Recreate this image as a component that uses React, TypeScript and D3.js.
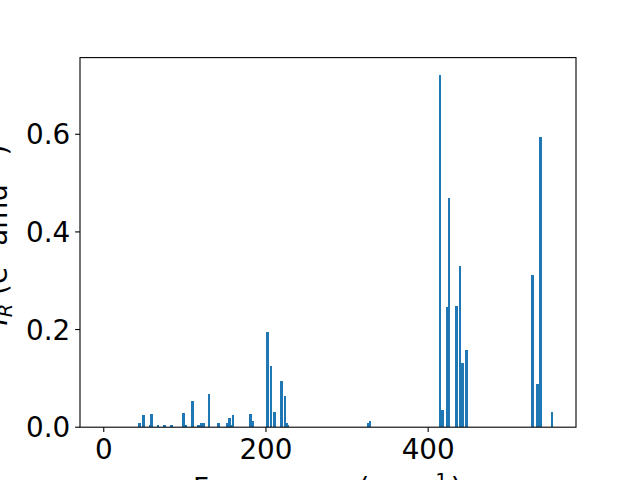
import React from "react";
import * as d3 from "d3";

// vibrational modes: frequency (cm^-1) and IR intensity
const frequencies = [
  0, 38.7, 43.9, 48.8, 57.3, 58.7, 63.6, 66.7, 74.9, 78, 83.6, 87.3, 98.2, 101.2, 109.5, 116.9,
  120.4, 123.9, 129.7, 141.5, 144.5, 152.1, 154.8, 157.3, 159.3, 166.7, 181.1, 183.3, 202.1,
  206.4, 210.5, 219.4, 223.7, 225.6, 227.4, 326, 328.5, 414.4, 417.8, 423.2, 425.5, 435, 439.6,
  442.5, 447.4, 528.9, 535, 538.3, 553,
];
const intensities = [
  0, 0.0014, 0.0076, 0.024, 0.0035, 0.028, 0.0014, 0.0055, 0.0035, 0.0014, 0.0035, 0.0014, 0.03,
  0.0035, 0.053, 0.0035, 0.0076, 0.0076, 0.067, 0.0096, 0.0014, 0.0076, 0.018, 0.0055, 0.024,
  0.0014, 0.028, 0.0137, 0.196, 0.1245, 0.032, 0.094, 0.063, 0.0076, 0.0035, 0.008, 0.013, 0.721,
  0.036, 0.246, 0.469, 0.248, 0.33, 0.131, 0.159, 0.311, 0.088, 0.594, 0.032,
];
const xTicks = [0, 200, 400];
const yTicks = [0, 0.2, 0.4, 0.6];

const W = 640;
const H = 480;
const left = 80;
const right = 576;
const top = 57.6;
const bottom = 427.2;
const barWidth = 3;
const font = "'DejaVu Sans', sans-serif";
const fs = 27.8;

const App = () => {
  const lo = d3.min(frequencies)! - barWidth / 2;
  const hi = d3.max(frequencies)! + barWidth / 2;
  const pad = (hi - lo) * 0.05;
  const x = d3.scaleLinear().domain([lo - pad, hi + pad]).range([left, right]);
  const y = d3
    .scaleLinear()
    .domain([0, d3.max(intensities)! * 1.05])
    .range([bottom, top]);

  const bars = frequencies.map((f, i) => ({ f, v: intensities[i] }));

  return (
    <svg
      width={W}
      height={H}
      style={{ position: "absolute", left: 0, top: 0, background: "#fff" }}
      fontFamily={font}
    >
      <g shapeRendering="crispEdges">
        {bars.map((d, i) => (
          <rect
            key={i}
            x={x(d.f - barWidth / 2)}
            y={y(d.v)}
            width={x(d.f + barWidth / 2) - x(d.f - barWidth / 2)}
            height={y(0) - y(d.v)}
            fill="#1f77b4"
          />
        ))}
      </g>

      <rect
        x={left}
        y={top}
        width={right - left}
        height={bottom - top}
        fill="none"
        stroke="#000"
        strokeWidth={1.1}
      />

      {xTicks.map((t) => (
        <g key={t}>
          <line x1={x(t)} x2={x(t)} y1={bottom} y2={bottom + 4.9} stroke="#000" strokeWidth={1.1} />
          <text x={x(t)} y={459.3} textAnchor="middle" fontSize={fs} fill="#000">
            {t}
          </text>
        </g>
      ))}

      {yTicks.map((t) => (
        <g key={t}>
          <line x1={left - 4.9} x2={left} y1={y(t)} y2={y(t)} stroke="#000" strokeWidth={1.1} />
          <text
            x={70.3}
            y={y(t)}
            dy="0.36em"
            textAnchor="end"
            fontSize={fs}
            fill="#000"
          >
            {d3.format(".1f")(t)}
          </text>
        </g>
      ))}

      <text
        x={(left + right) / 2}
        y={498.3}
        textAnchor="middle"
        fontSize={fs}
        fill="#000"
        letterSpacing={1.3}
      >
        Frequency (cm
        <tspan fontSize={fs * 0.7} dy={-11} dx={2}>−1</tspan>
        <tspan dy={11} dx={2}>)</tspan>
      </text>

      <text
        transform={`translate(7, 235) rotate(-90)`}
        textAnchor="middle"
        fontSize={fs}
        fill="#000"
      >
        <tspan fontStyle="italic">I</tspan>
        <tspan fontStyle="italic" fontSize={fs * 0.7} dy={5}>R</tspan>
        <tspan dy={-5}> (e</tspan>
        <tspan fontSize={fs * 0.7} dy={-11}>2</tspan>
        <tspan dy={11}> amu</tspan>
        <tspan fontSize={fs * 0.7} dy={-11}>−1</tspan>
        <tspan dy={11}>)</tspan>
      </text>
    </svg>
  );
};

export default App;
